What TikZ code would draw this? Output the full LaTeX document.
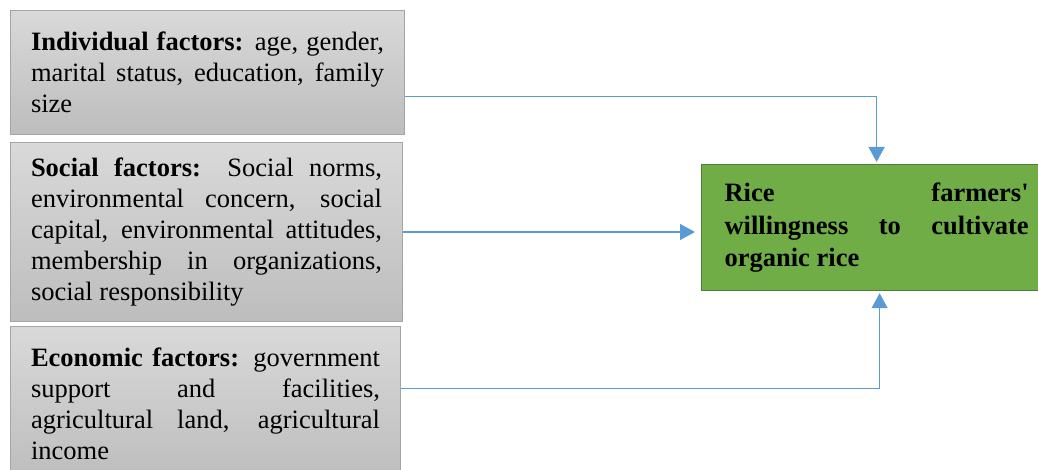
\documentclass[tikz,border=0pt]{standalone}
\usepackage{fontspec}
\setmainfont{Liberation Serif}
\usepackage{xcolor}
\usetikzlibrary{arrows.meta,positioning}

\definecolor{boxline}{HTML}{A5A5A5}
\definecolor{boxtop}{HTML}{D9D9D9}
\definecolor{boxbot}{HTML}{BDBDBD}
\definecolor{ricefill}{HTML}{70AD47}
\definecolor{riceline}{HTML}{507E32}
\definecolor{link}{HTML}{5B9BD5}

\newcommand{\nohyph}{\hyphenpenalty=10000\relax\tolerance=10000\relax}

\begin{document}
\begin{tikzpicture}[
  x=1pt,y=-1pt,
  node distance=6pt and 0pt,
  factor/.style={rectangle,draw=boxline,line width=1pt,top color=boxtop,bottom color=boxbot,align=justify,inner xsep=20.5pt,inner ysep=0pt,font=\fontsize{26.5}{31}\selectfont\nohyph},
  outcome/.style={rectangle,draw=riceline,line width=1.2pt,fill=ricefill,align=justify,text width=304pt,minimum height=126pt,inner xsep=23pt,inner ysep=0pt,font=\fontsize{26.5}{32.5}\selectfont\bfseries\nohyph},
  arrow/.style={-{Triangle[length=15pt,width=16pt]},link,line width=1.3pt},
]
\useasboundingbox (0,0) rectangle (1038,470);

\node[factor,text width=353pt,minimum height=124pt,anchor=north west] (indiv) at (10,10) {\textbf{Individual factors:} age, gender,\linebreak marital status, education, family\linebreak size};
\node[factor,text width=351pt,minimum height=179pt,below=7pt of indiv.south west,anchor=north west] (social) {\textbf{Social factors:} Social norms,\linebreak environmental concern, social\linebreak capital, environmental attitudes,\linebreak membership in organizations,\linebreak social responsibility};
\node[factor,text width=349pt,minimum height=154pt,below=4pt of social.south west,anchor=north west] (econ) {\textbf{Economic factors:} government\linebreak support and facilities,\linebreak agricultural land, agricultural\linebreak income};
\node[outcome,anchor=north west] (rice) at (701,164) {Rice farmers\textquotesingle\linebreak willingness to cultivate\linebreak organic rice};

\draw[arrow,shorten >=2pt] ([yshift=-24pt]indiv.east) -| (rice.north);
\draw[arrow,shorten >=6pt] (social.east) -- (social.east -| rice.west);
\draw[arrow,shorten >=2pt] ([yshift=15pt]econ.east) -| ([xshift=3pt]rice.south);
\end{tikzpicture}
\end{document}
